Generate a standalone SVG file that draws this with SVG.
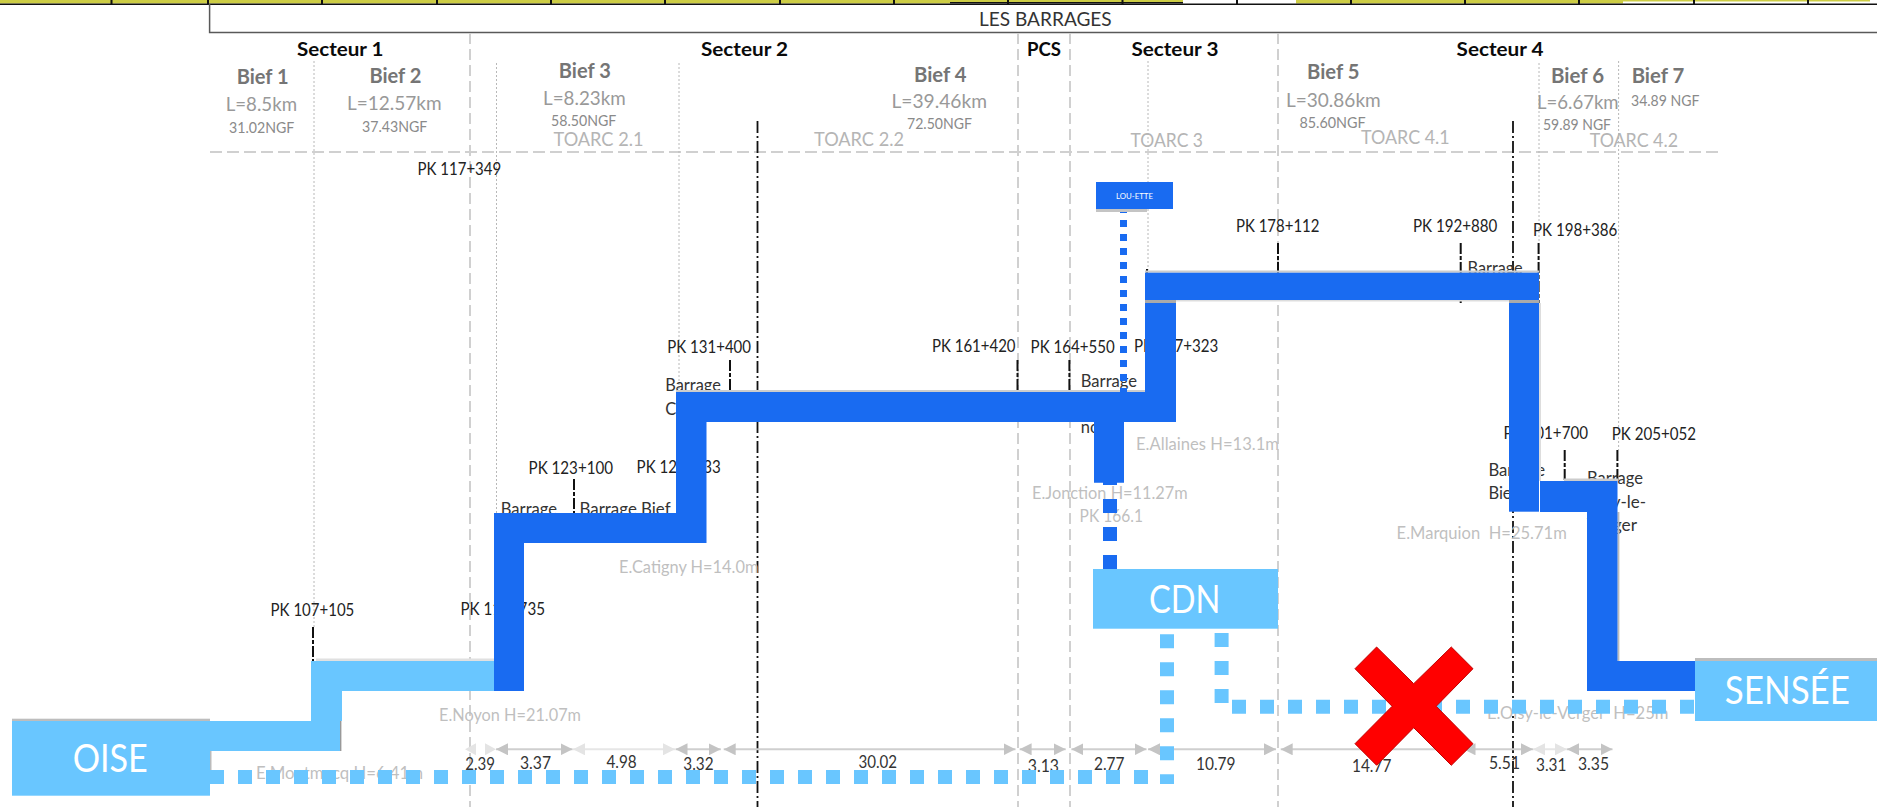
<svg xmlns="http://www.w3.org/2000/svg" width="1877" height="807" viewBox="0 0 1877 807">
<style>
text{font-family:Lato,"Liberation Sans",sans-serif}
.sec{font-size:19.5px;font-weight:700;fill:#0a0a0a}
.bief{font-size:20px;font-weight:700;fill:#757575}
.len{font-size:20px;fill:#999}
.ngf{font-size:15px;fill:#8a8a8a}
.toarc{font-size:20px;fill:#b5b5b5}
.pk{font-size:16.5px;fill:#222}
.bar{font-size:16.5px;fill:#333}
.ele{font-size:18px;fill:#bfbfbf}
.dim{font-size:17px;fill:#333}
.big{font-size:38px;fill:#fff}
.dash{stroke:#d0d0d0;stroke-width:2;stroke-dasharray:11 5;fill:none}
.dot{stroke:#b8b8b8;stroke-width:1;stroke-dasharray:2 2;fill:none}
.dd{stroke:#111;stroke-width:1.8;stroke-dasharray:12 3 2 3;fill:none}
.tick{stroke:#111;stroke-width:2;stroke-dasharray:11 2 4 2;fill:none}
.dk{fill:#196bf1}
.lt{fill:#69c6ff}
.ldots{stroke:#69c6ff;stroke-width:14;stroke-dasharray:14 14;fill:none}
.dimd{stroke:#cfcfcf;stroke-width:2;fill:none;marker-start:url(#ad);marker-end:url(#ad)}
.diml{stroke:#e6e6e6;stroke-width:2;fill:none;marker-start:url(#al);marker-end:url(#al)}
</style>
<defs>
<marker id="ad" markerUnits="userSpaceOnUse" markerWidth="12" markerHeight="12" refX="12" refY="6" orient="auto-start-reverse"><path d="M0 0L12 6L0 12Z" fill="#c4c4c4"/></marker>
<marker id="al" markerUnits="userSpaceOnUse" markerWidth="12" markerHeight="12" refX="12" refY="6" orient="auto-start-reverse"><path d="M0 0L12 6L0 12Z" fill="#e4e4e4"/></marker>
</defs>
<rect width="1877" height="807" fill="#fff"/>

<g id="ruler">
<rect x="0" y="0" width="950" height="3.5" fill="#cdcd45"/>
<rect x="950" y="0" width="233" height="2" fill="#cdcd45"/>
<rect x="1296" y="0" width="327" height="3.5" fill="#cdcd45"/>
<rect x="1623" y="0" width="247" height="1.5" fill="#cdcd45"/>
<rect x="0" y="3.5" width="1877" height="1.5" fill="#111"/>
<rect x="950" y="2" width="233" height="1.5" fill="#111"/>
<path d="M111.5 0V5M208 0V5M322 0V5M437 0V5M551 0V5M665 0V5M780 0V5M894 0V5M1008 0V5M1122.5 0V5M1237 0V5M1351 0V5M1465 0V5M1579 0V5M1694 0V5M1808 0V5" stroke="#111" stroke-width="2" fill="none"/>
</g>

<g id="frame">
<path d="M209.6 4V32.5H1877" fill="none" stroke="#595959" stroke-width="1.5"/>
<text x="979" y="26" font-size="19.5" fill="#333" textLength="132.7" lengthAdjust="spacingAndGlyphs">LES BARRAGES</text>
</g>

<g id="guides">
<path class="dash" d="M470 33V807"/>
<path class="dash" d="M1018 33V807"/>
<path class="dash" d="M1070 33V807"/>
<path class="dash" d="M1278 33V807"/>
<path d="M210 152H1721" fill="none" stroke="#d0d0d0" stroke-width="2" stroke-dasharray="12 5"/>
<path class="dot" d="M314 61V627"/>
<path class="dot" d="M496.5 63V513"/>
<path class="dot" d="M679 63V392"/>
<path class="dot" d="M1148 61V270"/>
<path class="dot" d="M1539 63V243"/>
<path class="dot" d="M1618.6 61V450"/>
<path class="dd" d="M757.5 121V807"/>
<path class="dd" d="M1513 121V807"/>
</g>

<g id="ticks">
<path class="tick" d="M313 627V661"/>
<path class="tick" d="M574 479V513"/>
<path class="tick" d="M730 360V392"/>
<path class="tick" d="M1017.5 360V392"/>
<path class="tick" d="M1069.4 360V392"/>
<path class="tick" d="M1278 243V273"/>
<path class="tick" d="M1460.7 243V303"/>
<path class="tick" d="M1538.6 243V303"/>
<path class="tick" d="M1147 269V303"/>
<path class="tick" d="M1564.7 450V481"/>
<path class="tick" d="M1617.4 450V481"/>
</g>

<g id="labels">
<text class="sec" x="297" y="56" textLength="86.5" lengthAdjust="spacingAndGlyphs">Secteur 1</text>
<text class="sec" x="701" y="56" textLength="87" lengthAdjust="spacingAndGlyphs">Secteur 2</text>
<text class="sec" x="1027" y="56" textLength="34" lengthAdjust="spacingAndGlyphs">PCS</text>
<text class="sec" x="1131.4" y="56" textLength="87" lengthAdjust="spacingAndGlyphs">Secteur 3</text>
<text class="sec" x="1456.6" y="56" textLength="87" lengthAdjust="spacingAndGlyphs">Secteur 4</text>

<text class="bief" x="236.7" y="84.3" textLength="52" lengthAdjust="spacingAndGlyphs">Bief 1</text>
<text class="bief" x="369.4" y="83" textLength="52" lengthAdjust="spacingAndGlyphs">Bief 2</text>
<text class="bief" x="558.8" y="78" textLength="52" lengthAdjust="spacingAndGlyphs">Bief 3</text>
<text class="bief" x="914" y="81.7" textLength="52.5" lengthAdjust="spacingAndGlyphs">Bief 4</text>
<text class="bief" x="1307" y="79" textLength="52.4" lengthAdjust="spacingAndGlyphs">Bief 5</text>
<text class="bief" x="1551" y="82.7" textLength="53" lengthAdjust="spacingAndGlyphs">Bief 6</text>
<text class="bief" x="1631.7" y="82.7" textLength="52.6" lengthAdjust="spacingAndGlyphs">Bief 7</text>

<text class="len" x="225.7" y="110.7" textLength="71.3" lengthAdjust="spacingAndGlyphs">L=8.5km</text>
<text class="len" x="347" y="110" textLength="94.6" lengthAdjust="spacingAndGlyphs">L=12.57km</text>
<text class="len" x="543" y="105" textLength="82.7" lengthAdjust="spacingAndGlyphs">L=8.23km</text>
<text class="len" x="891.4" y="107.7" textLength="95.6" lengthAdjust="spacingAndGlyphs">L=39.46km</text>
<text class="len" x="1286" y="106.7" textLength="94.7" lengthAdjust="spacingAndGlyphs">L=30.86km</text>
<text class="len" x="1537" y="108.7" textLength="81.6" lengthAdjust="spacingAndGlyphs">L=6.67km</text>

<text class="ngf" x="229" y="133" textLength="65.3" lengthAdjust="spacingAndGlyphs">31.02NGF</text>
<text class="ngf" x="362" y="132.3" textLength="65.3" lengthAdjust="spacingAndGlyphs">37.43NGF</text>
<text class="ngf" x="551" y="125.7" textLength="65.3" lengthAdjust="spacingAndGlyphs">58.50NGF</text>
<text class="ngf" x="907" y="128.7" textLength="65" lengthAdjust="spacingAndGlyphs">72.50NGF</text>
<text class="ngf" x="1299.4" y="128" textLength="66.2" lengthAdjust="spacingAndGlyphs">85.60NGF</text>
<text class="ngf" x="1543" y="130" textLength="68" lengthAdjust="spacingAndGlyphs">59.89 NGF</text>
<text class="ngf" x="1631" y="106" textLength="68.4" lengthAdjust="spacingAndGlyphs">34.89 NGF</text>

<text class="toarc" x="553.5" y="145.7" textLength="90" lengthAdjust="spacingAndGlyphs">TOARC 2.1</text>
<text class="toarc" x="814" y="145.7" textLength="90" lengthAdjust="spacingAndGlyphs">TOARC 2.2</text>
<text class="toarc" x="1130.6" y="147" textLength="72.4" lengthAdjust="spacingAndGlyphs">TOARC 3</text>
<text class="toarc" x="1361" y="144" textLength="88.7" lengthAdjust="spacingAndGlyphs">TOARC 4.1</text>
<text class="toarc" x="1589.7" y="147" textLength="88.3" lengthAdjust="spacingAndGlyphs">TOARC 4.2</text>

<text class="pk" x="417.6" y="175" textLength="83.6" lengthAdjust="spacingAndGlyphs">PK 117+349</text>
<text class="pk" x="270.6" y="615.7" textLength="83.7" lengthAdjust="spacingAndGlyphs">PK 107+105</text>
<text class="pk" x="460.4" y="614.7" textLength="84.6" lengthAdjust="spacingAndGlyphs">PK 117+735</text>
<text class="pk" x="528.6" y="474.3" textLength="84.4" lengthAdjust="spacingAndGlyphs">PK 123+100</text>
<text class="pk" x="636.6" y="473.3" textLength="84.2" lengthAdjust="spacingAndGlyphs">PK 127+533</text>
<text class="pk" x="667.3" y="353.3" textLength="83.7" lengthAdjust="spacingAndGlyphs">PK 131+400</text>
<text class="pk" x="932" y="352.3" textLength="83.5" lengthAdjust="spacingAndGlyphs">PK 161+420</text>
<text class="pk" x="1030.6" y="353.3" textLength="84.1" lengthAdjust="spacingAndGlyphs">PK 164+550</text>
<text class="pk" x="1134" y="352.3" textLength="84.4" lengthAdjust="spacingAndGlyphs">PK 167+323</text>
<text class="pk" x="1236" y="231.7" textLength="83.4" lengthAdjust="spacingAndGlyphs">PK 178+112</text>
<text class="pk" x="1413" y="232.3" textLength="84.4" lengthAdjust="spacingAndGlyphs">PK 192+880</text>
<text class="pk" x="1533" y="236" textLength="84.4" lengthAdjust="spacingAndGlyphs">PK 198+386</text>
<text class="pk" x="1503.5" y="439" textLength="84.5" lengthAdjust="spacingAndGlyphs">PK 201+700</text>
<text class="pk" x="1611.7" y="440" textLength="84.3" lengthAdjust="spacingAndGlyphs">PK 205+052</text>

<text class="bar" x="500.8" y="515" textLength="56.2" lengthAdjust="spacingAndGlyphs">Barrage</text>
<text class="bar" x="579.6" y="515" textLength="91" lengthAdjust="spacingAndGlyphs">Barrage Bief</text>
<text class="bar" x="665.3" y="390.7" textLength="55.5" lengthAdjust="spacingAndGlyphs">Barrage</text>
<text class="bar" x="665.3" y="415">Catigny</text>
<text class="bar" x="1080.8" y="387.3" textLength="56.2" lengthAdjust="spacingAndGlyphs">Barrage</text>
<text class="bar" x="1080.8" y="433.3">no</text>
<text class="bar" x="1467.6" y="274" textLength="55.1" lengthAdjust="spacingAndGlyphs">Barrage</text>
<text class="bar" x="1488.4" y="475.7" textLength="56.6" lengthAdjust="spacingAndGlyphs">Barrage</text>
<text class="bar" x="1488.4" y="499.3">Bief</text>
<text class="bar" x="1587" y="484.3" textLength="56" lengthAdjust="spacingAndGlyphs">Barrage</text>
<text class="bar" x="1587" y="508" textLength="59" lengthAdjust="spacingAndGlyphs">Oisy-le-</text>
<text class="bar" x="1587" y="531" textLength="50" lengthAdjust="spacingAndGlyphs">Verger</text>

<text class="ele" x="256" y="779.3" textLength="167" lengthAdjust="spacingAndGlyphs">E.Montmacq H=6.41m</text>
<text class="ele" x="439" y="721" textLength="142" lengthAdjust="spacingAndGlyphs">E.Noyon H=21.07m</text>
<text class="ele" x="619" y="572.7" textLength="139.4" lengthAdjust="spacingAndGlyphs">E.Catigny H=14.0m</text>
<text class="ele" x="1136" y="450.3" textLength="143" lengthAdjust="spacingAndGlyphs">E.Allaines H=13.1m</text>
<text class="ele" x="1032" y="498.7" textLength="155.7" lengthAdjust="spacingAndGlyphs">E.Jonction H=11.27m</text>
<text class="ele" x="1079.6" y="522.3" textLength="63.4" lengthAdjust="spacingAndGlyphs">PK 166.1</text>
<text class="ele" x="1396.6" y="539.3" textLength="170.2" lengthAdjust="spacingAndGlyphs" xml:space="preserve">E.Marquion  H=25.71m</text>
<text class="ele" x="1487" y="719.3" textLength="181.4" lengthAdjust="spacingAndGlyphs" xml:space="preserve">E.Oisy-le-Verger  H=25m</text>
</g>

<g id="dimensions">
<path d="M476 743.3L465 749.3L476 755.3ZM485 743.3L496 749.3L485 755.3Z" fill="#e4e4e4"/>
<path class="dimd" d="M496 749.3H572.6"/>
<path class="diml" d="M573 749.3H675"/>
<path class="dimd" d="M675.5 749.3H720.8"/>
<path class="dimd" d="M723.7 749.3H1015.5"/>
<path class="dimd" d="M1019.6 749.3H1065.7"/>
<path class="dimd" d="M1071.4 749.3H1146.5"/>
<path class="dimd" d="M1148 749.3H1276"/>
<path class="dimd" d="M1280.7 749.3H1461"/>
<path class="dimd" d="M1463.5 749.3H1533"/>
<path class="diml" d="M1533 749.3H1567"/>
<path class="dimd" d="M1567 749.3H1612.5"/>
<text class="dim" x="465.3" y="770.3" textLength="29.7" lengthAdjust="spacingAndGlyphs">2.39</text>
<text class="dim" x="520" y="768.7" textLength="31" lengthAdjust="spacingAndGlyphs">3.37</text>
<text class="dim" x="606.5" y="767.7" textLength="30.2" lengthAdjust="spacingAndGlyphs">4.98</text>
<text class="dim" x="683.3" y="769.7" textLength="30.2" lengthAdjust="spacingAndGlyphs">3.32</text>
<text class="dim" x="858.4" y="768" textLength="38.6" lengthAdjust="spacingAndGlyphs">30.02</text>
<text class="dim" x="1027.8" y="772" textLength="31.2" lengthAdjust="spacingAndGlyphs">3.13</text>
<text class="dim" x="1094" y="769.7" textLength="30.5" lengthAdjust="spacingAndGlyphs">2.77</text>
<text class="dim" x="1196" y="769.7" textLength="39.5" lengthAdjust="spacingAndGlyphs">10.79</text>
<text class="dim" x="1352" y="771.7" textLength="39.3" lengthAdjust="spacingAndGlyphs">14.77</text>
<text class="dim" x="1489" y="768.7" textLength="31" lengthAdjust="spacingAndGlyphs">5.51</text>
<text class="dim" x="1536" y="770.7" textLength="30.4" lengthAdjust="spacingAndGlyphs">3.31</text>
<text class="dim" x="1578" y="769.7" textLength="31" lengthAdjust="spacingAndGlyphs">3.35</text>
</g>

<g id="connectors">
<rect x="316" y="658.5" width="178" height="2.5" fill="#e0e0e0"/>
<rect x="676" y="390" width="469" height="2" fill="#ccc"/>
<rect x="1145" y="270.5" width="394" height="2.2" fill="#ccc"/>
<rect x="1145" y="300" width="394" height="1.5" fill="#ddd"/>
<rect x="1145" y="300" width="31" height="3" fill="#aaa"/>
<rect x="1509" y="300" width="30" height="3" fill="#aaa"/>
<rect x="1539" y="303" width="2" height="178" fill="#ddd"/>
<rect x="1564" y="478.5" width="54" height="2.5" fill="#ccc"/>
<rect x="1617.4" y="512" width="2" height="149" fill="#bbb"/>
<rect x="339.6" y="721" width="1.8" height="30" fill="#999"/>
<rect x="210" y="751" width="1.5" height="19" fill="#bbb"/>
<path class="lt" d="M210 721H311V661H494V691H342V721H340V751H210Z"/>
<path class="ldots" d="M210 777H1150"/>
<path class="ldots" d="M1167 784V625.7" stroke-dashoffset="4.3"/>
<path class="ldots" d="M1221.6 633V703.3"/>
<path class="ldots" d="M1232 706.7H1695"/>
<path class="dk" d="M494 513H676V392H1145V303H1176V422H1124V482.7H1117V485H1103V482.7H1094V422H706.5V543H524V691H494Z"/>
<rect class="dk" x="1145" y="272.7" width="394" height="27.3"/>
<rect class="dk" x="1509" y="303" width="30" height="208.7"/>
<path class="dk" d="M1540 481H1617.5V661H1695V691H1587V512H1540Z"/>
<path d="M1123.5 206V392" fill="none" stroke="#196bf1" stroke-width="7" stroke-dasharray="7 7"/>
<path d="M1110 499V570" fill="none" stroke="#196bf1" stroke-width="14" stroke-dasharray="14 14"/>
</g>

<g id="node-oise">
<rect x="12" y="718.7" width="198" height="2.5" fill="#bdbdbd"/>
<rect class="lt" x="12" y="721" width="198" height="74.7"/>
<text class="big" x="72.7" y="772" textLength="75.1" lengthAdjust="spacingAndGlyphs">OISE</text>
</g>
<g id="node-cdn">
<rect class="lt" x="1093" y="569" width="185" height="59.7"/>
<text class="big" x="1149" y="612.7" textLength="71.4" lengthAdjust="spacingAndGlyphs">CDN</text>
</g>
<g id="node-sensee">
<rect x="1695" y="658" width="182" height="3" fill="#bdbdbd"/>
<rect class="lt" x="1695" y="661" width="182" height="60"/>
<text class="big" x="1724.8" y="703.7" textLength="125.2" lengthAdjust="spacingAndGlyphs">SENSÉE</text>
</g>
<g id="node-louette">
<rect x="1096" y="209" width="51" height="3" fill="#c4c4c4"/>
<rect class="dk" x="1096" y="182" width="77" height="27"/>
<text x="1116" y="199" font-size="8" fill="#fff" textLength="37" lengthAdjust="spacingAndGlyphs">LOU-ETTE</text>
</g>
<g id="node-cross">
<path d="M1376.6 647L1413.7 683.7L1451.3 647L1473 668.7L1436.2 706.3L1473 743.7L1451.3 765.3L1413.7 727.7L1376.6 765.3L1355 743.7L1392.1 706.3L1355 668.7Z" fill="#f00" stroke="#c00000" stroke-width="1"/>
</g>
</svg>
